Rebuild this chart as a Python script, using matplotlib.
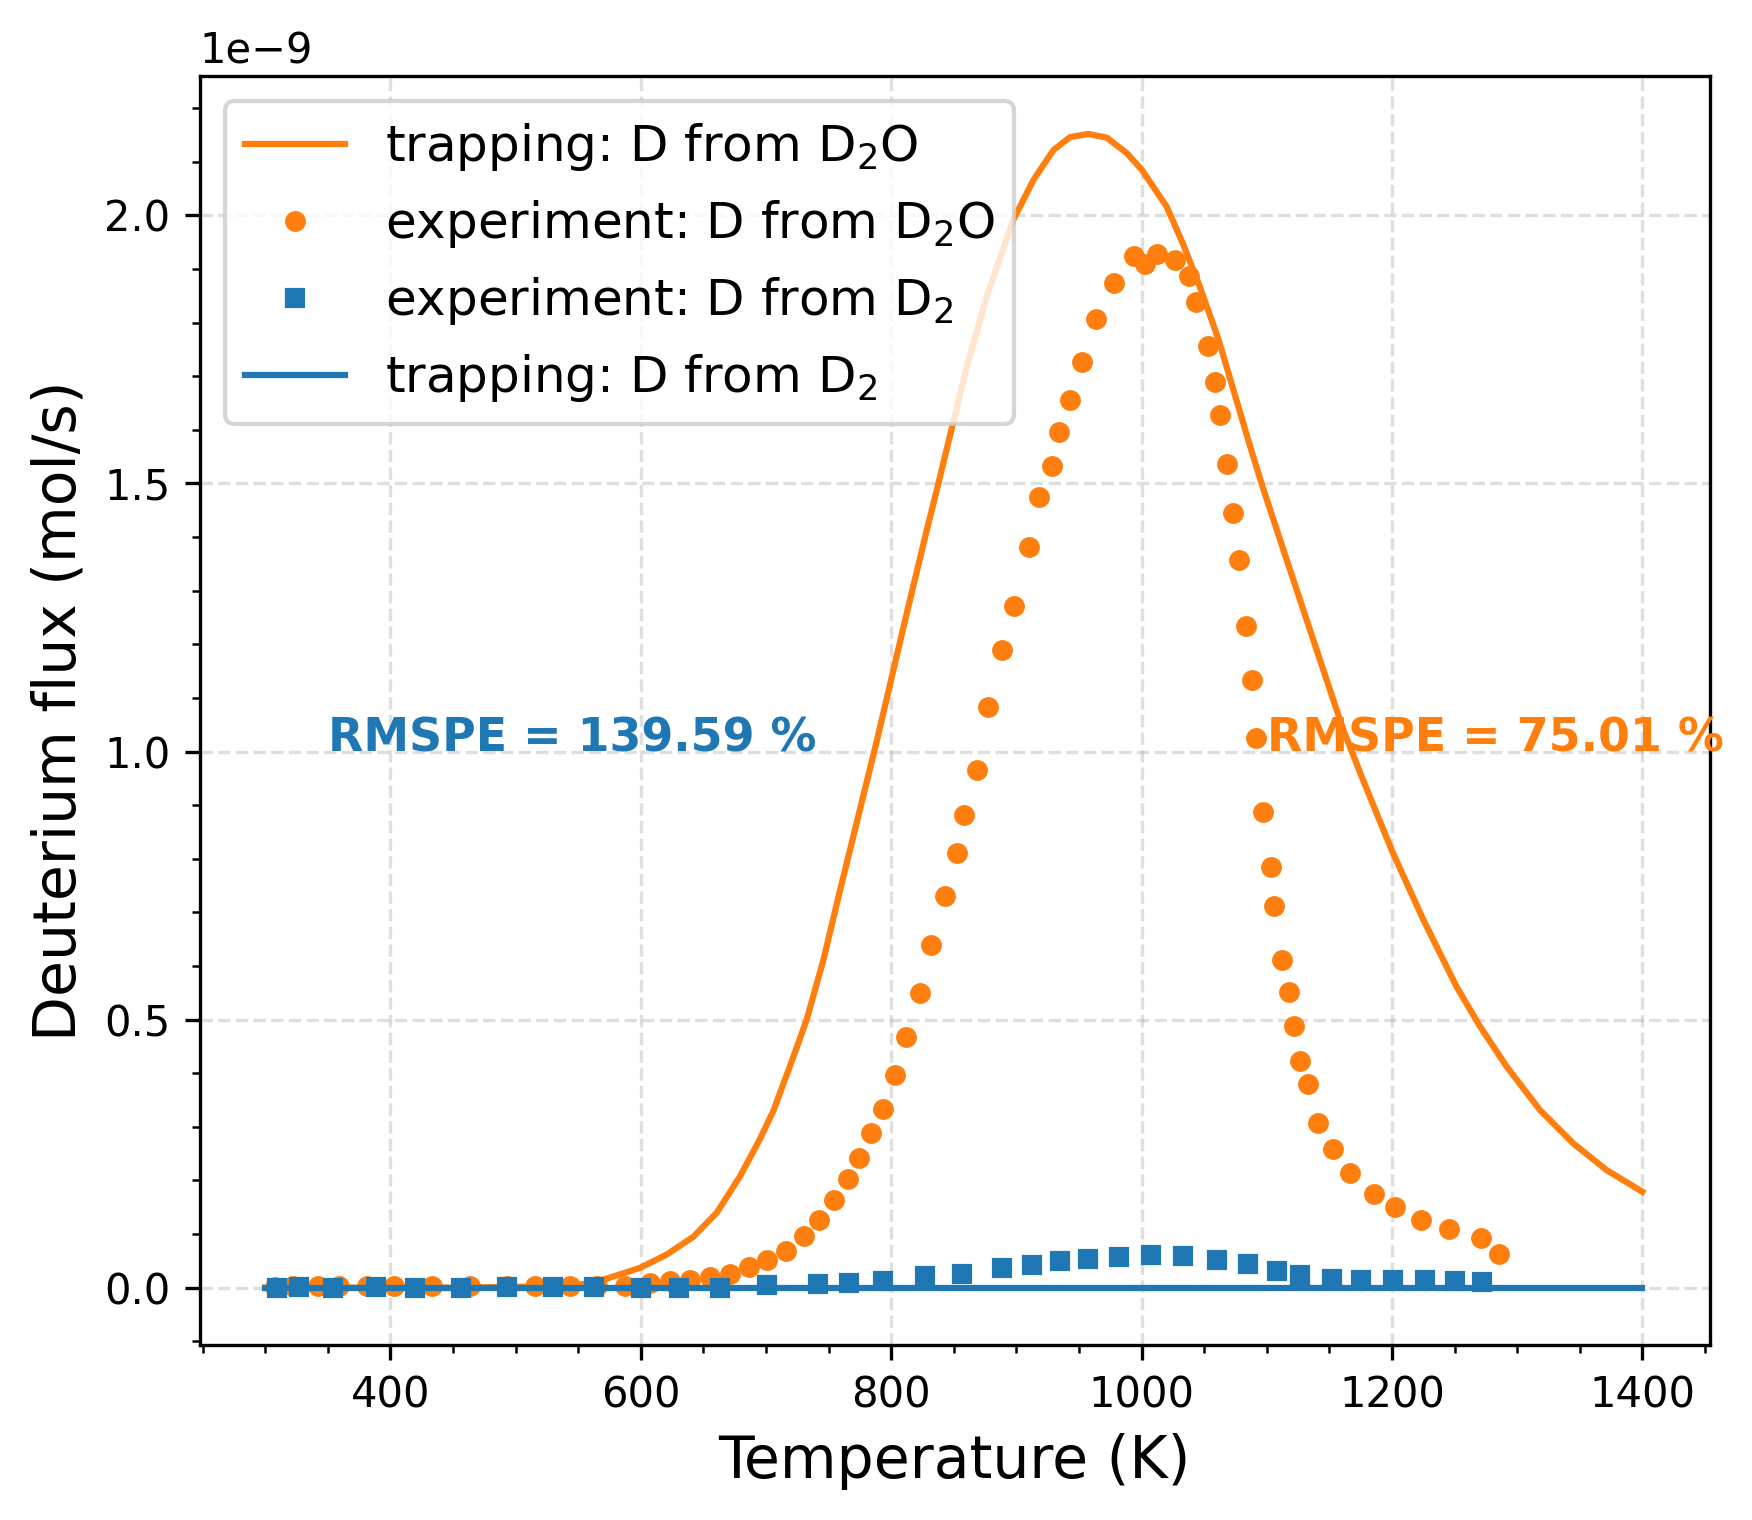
import matplotlib
matplotlib.use("Agg")
import matplotlib.pyplot as plt
import numpy as np

# ---------------- data (flux values in units of 1e-9 mol/s) ----------------
trap_d2o_T = [300, 450, 520, 549, 565, 599.4, 620.8, 642, 660.7, 679.3, 695.3,
              705.9, 721.9, 732.6, 745.8, 759.2, 772.5, 788.7, 811.1, 828.4,
              837.7, 844.4, 860.4, 876.3, 897.6, 913.6, 929.6, 942.9, 957.5,
              972.2, 988.2, 1000.2, 1020.1, 1033.4, 1046.7, 1061.5, 1086.6,
              1096.5, 1113.3, 1139.9, 1161.2, 1176, 1199.8, 1225.1, 1251.7,
              1270.4, 1291.7, 1318.3, 1344.9, 1371.6, 1400]
trap_d2o_flux = [0.000, 0.000, 0.002, 0.005, 0.011, 0.037, 0.062, 0.095, 0.140,
                 0.208, 0.278, 0.330, 0.431, 0.501, 0.611, 0.742, 0.868, 1.022,
                 1.245, 1.413, 1.500, 1.565, 1.718, 1.849, 1.992, 2.066, 2.122,
                 2.146, 2.152, 2.145, 2.116, 2.085, 2.016, 1.945, 1.866, 1.768,
                 1.570, 1.495, 1.376, 1.189, 1.040, 0.952, 0.816, 0.686, 0.561,
                 0.487, 0.412, 0.331, 0.269, 0.219, 0.179]

exp_d2o_T = [307.9, 322.5, 342.5, 358.5, 381.1, 403, 433.1, 463.7, 493, 515.6,
             543.5, 564.8, 587.5, 607.4, 623.4, 639.4, 655.4, 671.3, 686, 701.1,
             716, 730.7, 742.7, 754.6, 765.8, 774.6, 784.2, 793.8, 803.4, 812.1,
             823.3, 832.1, 843.3, 852.9, 858.5, 868.2, 877.7, 888.7, 898.4,
             910.4, 918.4, 928.8, 934.3, 943.1, 952.7, 963.9, 978.3, 994.2,
             1003, 1012.6, 1026.8, 1038.1, 1043.7, 1053.4, 1059, 1062.5, 1068.5,
             1073.3, 1078.1, 1083.2, 1088.5, 1091.7, 1097.3, 1103.7, 1106.1,
             1112.5, 1118.1, 1122, 1126.8, 1133.2, 1141.2, 1153.2, 1166.8, 1186,
             1202.7, 1223.5, 1245.8, 1271.4, 1285.8]
exp_d2o_flux = [0.002, 0.003, 0.003, 0.003, 0.003, 0.004, 0.003, 0.004, 0.003,
                0.003, 0.003, 0.004, 0.004, 0.009, 0.012, 0.015, 0.020, 0.026,
                0.038, 0.051, 0.069, 0.096, 0.127, 0.163, 0.202, 0.241, 0.288,
                0.334, 0.396, 0.468, 0.549, 0.640, 0.730, 0.810, 0.881, 0.966,
                1.084, 1.189, 1.271, 1.381, 1.474, 1.532, 1.596, 1.655, 1.726,
                1.806, 1.873, 1.924, 1.909, 1.928, 1.917, 1.887, 1.838, 1.757,
                1.690, 1.628, 1.536, 1.445, 1.357, 1.234, 1.133, 1.025, 0.888,
                0.784, 0.711, 0.612, 0.551, 0.489, 0.422, 0.379, 0.308, 0.258,
                0.213, 0.174, 0.150, 0.127, 0.109, 0.092, 0.0625]

exp_d2_T = [309.3, 327, 354, 388.5, 419.7, 456.5, 493, 530, 562.8, 600, 630.6,
            663.3, 700.9, 741.7, 766.4, 793.5, 827, 856.6, 888.6, 912.5, 934.6,
            957.1, 981.8, 1007.5, 1033.2, 1060.4, 1085, 1108.2, 1126.7, 1152.2,
            1175.5, 1201, 1226.5, 1250.5, 1272.2]
exp_d2_flux = [0.000, 0.001, 0.000, 0.001, 0.000, 0.000, 0.001, 0.001, 0.001,
               0.000, 0.000, 0.000, 0.005, 0.006, 0.009, 0.012, 0.021, 0.026,
               0.037, 0.043, 0.049, 0.054, 0.058, 0.061, 0.059, 0.052, 0.044,
               0.031, 0.023, 0.017, 0.015, 0.015, 0.015, 0.013, 0.011]

trap_d2_T = [300, 500, 700, 900, 1100, 1300, 1400]
trap_d2_flux = [0, 0, 0, 0, 0, 0, 0]

labels = ["trapping: D from D$_2$O", "experiment: D from D$_2$O",
          "experiment: D from D$_2$", "trapping: D from D$_2$"]
rmspe_d2 = "RMSPE = 139.59 %"
rmspe_d2o = "RMSPE = 75.01 %"

SCALE = 1e-9
ORANGE = "#ff7f0e"
BLUE = "#1f77b4"

# ---------------- figure ----------------
fig = plt.figure(figsize=(1752 / 300, 1520 / 300), dpi=300)
ax = fig.add_axes([0.1139, 0.1151, 0.8621, 0.8349])

ax.plot(trap_d2o_T, np.array(trap_d2o_flux) * SCALE, color=ORANGE, lw=1.5,
        label=labels[0])
ax.plot(exp_d2o_T, np.array(exp_d2o_flux) * SCALE, "o", color=ORANGE, ms=4,
        label=labels[1])
ax.plot(exp_d2_T, np.array(exp_d2_flux) * SCALE, "s", color=BLUE, ms=4,
        label=labels[2])
ax.plot(trap_d2_T, np.array(trap_d2_flux) * SCALE, color=BLUE, lw=1.5,
        label=labels[3])

ax.text(350, 1.0e-9, rmspe_d2, color=BLUE, fontsize=11, fontweight="bold")
ax.text(1100, 1.0e-9, rmspe_d2o, color=ORANGE, fontsize=11, fontweight="bold")

ax.set_xlim(247.5, 1454)
ax.set_ylim(-0.107e-9, 2.260e-9)
ax.minorticks_on()
ax.grid(True, which="major", linestyle="--", alpha=0.4)
ax.set_xlabel("Temperature (K)", fontsize=14)
ax.set_ylabel("Deuterium flux (mol/s)", fontsize=14)
ax.legend(loc="upper left", fontsize=12)

fig.savefig("out.png", dpi=300)
